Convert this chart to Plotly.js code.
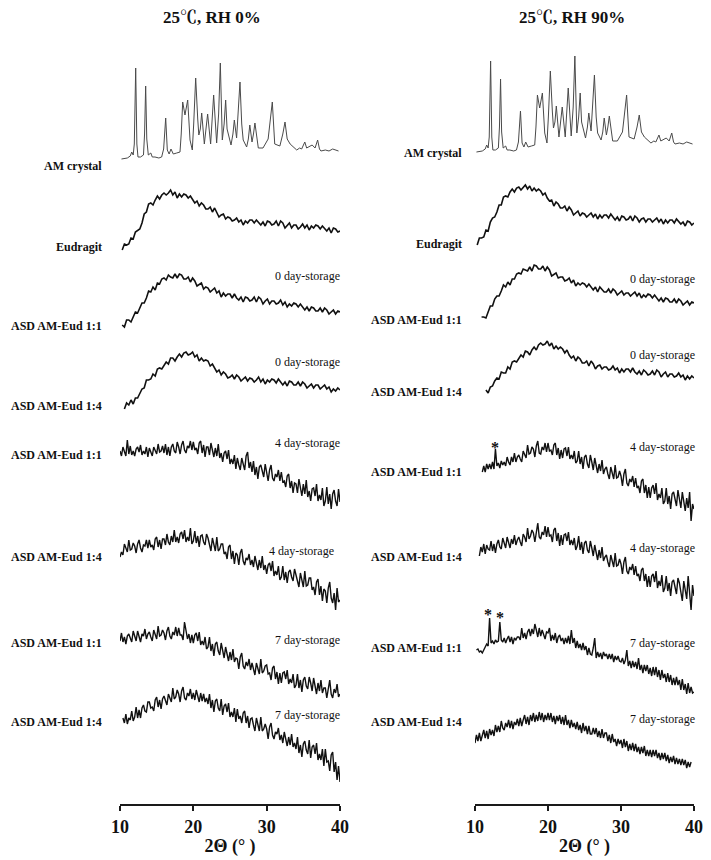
<!DOCTYPE html>
<html>
<head>
<meta charset="utf-8">
<script src="https://cdn.plot.ly/plotly-3.0.1.min.js"></script>
<style>html,body{margin:0;padding:0;background:#fff;}#chart{width:711px;height:860px;}</style>
</head>
<body>
<div id="chart"></div>
<script>
// ---------- DATA ----------
const panelTitles = ['25\u2103, RH 0%', '25\u2103, RH 90%'];
const axisTitle = '2\u0398 (\u00b0 )';
const tickValues = [10, 20, 30, 40];
const tickLabels = ['10', '20', '30', '40'];

const sampleNames = ['AM crystal', 'Eudragit', 'ASD AM-Eud 1:1', 'ASD AM-Eud 1:4',
                     'ASD AM-Eud 1:1', 'ASD AM-Eud 1:4', 'ASD AM-Eud 1:1', 'ASD AM-Eud 1:4'];
const storageNames = ['', '', '0 day-storage', '0 day-storage',
                      '4 day-storage', '4 day-storage', '7 day-storage', '7 day-storage'];

// vertical stacking offsets (a.u.) of each pattern, per panel
const offsetsRH0  = [640, 540, 470, 390, 300, 200, 100, 20];
const offsetsRH90 = [647, 545, 475, 395, 290, 200, 100, 20];

// AM crystal pattern
const amTheta = [10.2,11.0,11.4,11.6,11.8,11.95,12.14,12.3,12.45,12.8,
 13.2,13.35,13.5,13.65,13.86,14.2,14.4,14.77,15.3,15.68,
 15.95,16.23,16.45,16.7,16.95,17.27,17.73,18.18,18.35,18.55,
 18.86,19.23,19.55,19.86,20.05,20.32,20.6,20.75,20.95,21.14,
 21.5,21.75,21.95,22.36,22.6,22.77,23.18,23.45,23.68,23.95,
 24.2,24.41,24.6,24.77,25.14,25.4,25.59,25.9,26.1,26.36,
 26.6,26.8,27.27,27.5,27.7,28.0,28.2,28.4,28.86,29.5,
 30.2,30.5,30.77,31.1,31.8,32.2,32.5,32.8,33.2,34.1,
 34.5,34.77,35.0,35.2,35.45,35.7,36.2,36.6,36.95,37.2,
 37.4,38.0,38.5,39.0,39.5,39.8];
const amIntensity = [5,6,8,12,9,20,96,20,7,7,
 9,30,78,25,9,11,7,7,6,7,
 15,46,14,10,15,10,11,12,30,62,
 49,64,24,14,40,86,45,29,35,51,
 20,35,50,20,45,69,21,50,101,24,
 40,64,35,29,19,30,44,26,50,82,
 40,24,17,25,39,22,30,41,16,16,
 25,45,62,20,18,30,42,25,20,14,
 16,15,18,22,16,17,19,16,24,15,
 13,14,13,15,14,13];

// 2-theta grid of the low-noise scans (step 0.3)
const twoThetaCoarse = [10.0,10.3,10.6,10.9,11.2,11.5,11.8,12.1,12.4,12.7,
 13.0,13.3,13.6,13.9,14.2,14.5,14.8,15.1,15.4,15.7,
 16.0,16.3,16.6,16.9,17.2,17.5,17.8,18.1,18.4,18.7,
 19.0,19.3,19.6,19.9,20.2,20.5,20.8,21.1,21.4,21.7,
 22.0,22.3,22.6,22.9,23.2,23.5,23.8,24.1,24.4,24.7,
 25.0,25.3,25.6,25.9,26.2,26.5,26.8,27.1,27.4,27.7,
 28.0,28.3,28.6,28.9,29.2,29.5,29.8,30.1,30.4,30.7,
 31.0,31.3,31.6,31.9,32.2,32.5,32.8,33.1,33.4,33.7,
 34.0,34.3,34.6,34.9,35.2,35.5,35.8,36.1,36.4,36.7,
 37.0,37.3,37.6,37.9,38.2,38.5,38.8,39.1,39.4,39.7,
 40.0];
// 2-theta grid of the noisy stored-sample scans (step 0.2)
const twoThetaFine = [10.0,10.2,10.4,10.6,10.8,11.0,11.2,11.4,11.6,11.8,
 12.0,12.2,12.4,12.6,12.8,13.0,13.2,13.4,13.6,13.8,
 14.0,14.2,14.4,14.6,14.8,15.0,15.2,15.4,15.6,15.8,
 16.0,16.2,16.4,16.6,16.8,17.0,17.2,17.4,17.6,17.8,
 18.0,18.2,18.4,18.6,18.8,19.0,19.2,19.4,19.6,19.8,
 20.0,20.2,20.4,20.6,20.8,21.0,21.2,21.4,21.6,21.8,
 22.0,22.2,22.4,22.6,22.8,23.0,23.2,23.4,23.6,23.8,
 24.0,24.2,24.4,24.6,24.8,25.0,25.2,25.4,25.6,25.8,
 26.0,26.2,26.4,26.6,26.8,27.0,27.2,27.4,27.6,27.8,
 28.0,28.2,28.4,28.6,28.8,29.0,29.2,29.4,29.6,29.8,
 30.0,30.2,30.4,30.6,30.8,31.0,31.2,31.4,31.6,31.8,
 32.0,32.2,32.4,32.6,32.8,33.0,33.2,33.4,33.6,33.8,
 34.0,34.2,34.4,34.6,34.8,35.0,35.2,35.4,35.6,35.8,
 36.0,36.2,36.4,36.6,36.8,37.0,37.2,37.4,37.6,37.8,
 38.0,38.2,38.4,38.6,38.8,39.0,39.2,39.4,39.6,39.8,
 40.0];

// ---- 25 C, RH 0% ----
const eudragitRH0 = [null,14,20,19,20,26,25,32,34,35,
 41,50,52,60,61,59,64,68,65,69,
 71,69,71,74,69,72,66,70,67,70,
 69,66,68,64,61,63,58,61,59,55,
 55,57,52,56,52,47,49,50,45,47,
 46,43,44,46,42,44,39,43,41,44,
 44,41,44,41,39,42,38,43,42,39,
 40,43,38,43,41,36,39,41,36,39,
 39,35,37,40,36,39,34,38,36,39,
 38,35,38,35,33,36,31,36,35,32,
 33];
const asd11Day0RH0 = [null,9,7,14,14,12,17,22,21,27,
 31,31,36,43,42,47,44,51,50,55,
 56,54,59,57,56,60,56,60,59,55,
 55,57,52,56,53,48,50,51,45,47,
 46,42,44,46,41,43,37,41,38,40,
 40,36,40,36,34,37,32,37,36,33,
 34,37,32,37,35,30,33,35,30,33,
 33,30,31,34,29,32,27,30,28,31,
 30,27,30,27,24,27,23,27,26,23,
 23,26,22,26,24,20,22,24,20,23,
 22];
const asd14Day0RH0 = [null,null,5,11,9,14,10,16,16,21,
 25,26,34,34,35,40,38,45,46,45,
 48,52,50,56,56,53,57,60,57,61,
 62,59,60,62,57,59,53,56,53,54,
 53,48,50,46,42,44,39,42,40,36,
 37,39,35,39,37,33,35,37,33,36,
 35,32,34,37,32,35,30,34,32,35,
 34,31,35,32,29,32,28,33,32,29,
 29,32,28,32,30,26,28,30,26,29,
 29,25,27,29,25,27,22,25,23,26,
 24];
const asd11Day4RH0 = [53,48,57,51,48,64,50,58,49,53,
 48,55,57,52,59,49,53,50,57,47,
 56,52,48,57,54,50,60,52,53,58,
 51,60,49,57,48,57,60,53,51,62,
 57,50,59,63,54,51,58,56,63,54,
 62,54,56,50,61,63,51,59,47,57,
 57,49,61,52,47,56,48,60,46,51,
 42,51,53,45,54,40,45,40,49,35,
 46,39,34,46,41,34,48,52,36,42,
 32,43,29,37,25,37,39,31,27,40,
 32,23,34,39,26,23,30,27,34,23,
 32,22,23,17,28,30,16,23,11,21,
 20,11,25,15,8,20,10,24,7,13,
 3,15,16,8,20,3,9,4,16,-2,
 3,17,0,10,-5,10,14,3,-2,15,
 2];
const asd14Day4RH0 = [47,52,49,60,56,52,64,54,55,61,
 58,51,60,64,56,52,59,58,64,56,
 64,57,59,54,65,67,57,64,55,65,
 65,59,70,62,59,68,62,74,62,67,
 61,70,72,65,74,62,67,63,76,60,
 63,73,61,68,57,68,69,62,59,70,
 66,59,53,66,60,53,67,53,55,60,
 60,50,52,45,57,59,45,53,40,51,
 49,39,51,55,43,39,46,44,50,39,
 44,37,48,40,34,44,36,48,34,39,
 30,39,41,33,43,28,33,29,38,24,
 27,38,24,32,21,32,34,27,23,35,
 30,23,17,31,24,17,33,18,19,26,
 26,14,17,9,22,25,9,18,3,15,
 13,1,16,22,6,1,11,-6,16,2,
 4];
const asd11Day7RH0 = [63,71,62,67,60,68,70,65,62,73,
 69,63,73,67,62,70,68,75,65,70,
 72,67,63,74,70,65,78,68,69,74,
 71,64,73,77,68,65,72,69,77,68,
 76,69,69,64,82,75,65,70,61,69,
 61,69,71,63,72,59,63,59,67,55,
 57,67,53,60,48,60,62,53,49,61,
 54,46,57,49,43,52,44,55,42,46,
 45,35,47,51,38,35,42,38,45,34,
 41,35,29,41,36,30,45,31,33,38,
 39,30,31,24,36,38,25,32,20,31,
 21,31,32,25,34,20,25,21,30,16,
 19,30,16,24,12,24,27,18,15,27,
 21,13,26,17,10,21,13,24,11,16,
 16,6,18,24,10,6,15,11,20,7,
 10];
const asd14Day7RH0 = [null,null,66,61,70,60,66,64,73,63,
 67,77,66,74,66,76,79,73,72,82,
 82,76,77,73,84,87,77,84,75,85,
 88,83,79,90,86,82,96,85,87,94,
 90,82,93,97,86,84,91,88,95,85,
 91,84,94,88,82,91,83,90,82,86,
 80,90,76,84,72,83,85,76,73,85,
 69,78,80,72,81,67,72,67,76,62,
 75,65,68,61,71,73,61,68,56,65,
 66,59,53,66,60,53,67,53,55,60,
 55,45,57,61,49,45,52,50,56,44,
 49,41,52,44,38,47,39,50,37,41,
 35,47,31,39,27,40,43,34,30,44,
 26,37,39,30,41,24,30,24,35,18,
 35,22,23,13,29,32,12,22,4,18,
 2];

// ---- 25 C, RH 90% ----
const eudragitRH90 = [null,14,21,21,22,29,28,37,41,42,
 47,54,54,62,63,62,67,70,67,71,
 72,69,71,74,70,73,68,71,68,70,
 68,64,66,61,58,59,53,57,55,51,
 51,53,48,52,49,44,46,48,43,46,
 45,42,44,46,42,45,40,44,41,44,
 44,41,45,42,39,42,38,43,42,39,
 40,43,38,43,41,37,40,41,37,40,
 40,37,39,41,37,40,35,39,36,39,
 39,36,40,37,35,37,33,38,37,34,
 36];
const asd11Day0RH90 = [null,null,null,12,12,11,17,23,23,30,
 33,33,38,44,42,47,44,50,50,55,
 56,55,60,59,58,62,58,64,63,60,
 60,63,58,62,59,53,55,56,51,52,
 52,48,49,51,46,49,43,46,44,46,
 45,42,45,42,39,42,37,42,40,37,
 37,40,36,40,38,34,36,38,34,36,
 36,33,35,37,33,36,31,34,32,35,
 34,31,34,31,28,31,27,31,30,27,
 27,30,26,30,28,24,26,28,24,27,
 26];
const asd14Day0RH90 = [null,null,null,null,null,19,16,22,23,28,
 31,30,37,36,36,42,40,47,48,47,
 50,54,52,58,57,54,59,62,59,64,
 66,64,65,68,63,66,60,63,60,62,
 60,56,59,54,51,53,48,52,50,46,
 46,48,43,48,45,40,43,44,40,42,
 42,39,40,43,39,41,36,40,37,40,
 40,37,41,37,35,38,34,39,37,34,
 35,38,34,39,37,32,35,37,32,35,
 35,32,33,36,32,34,29,33,30,33,
 31];
const asd11Day4RH90 = [null,null,null,null,null,42,48,42,50,45,
 50,45,52,45,65,48,51,46,53,49,
 52,48,57,52,49,57,52,61,52,57,
 59,55,52,63,60,56,69,60,61,67,
 65,57,68,73,61,60,67,64,71,62,
 71,63,64,59,69,71,59,66,55,64,
 56,65,66,58,67,55,59,55,63,51,
 53,63,50,57,45,57,59,50,46,59,
 52,44,56,47,41,50,43,54,40,45,
 47,40,35,47,42,35,49,36,37,43,
 38,28,40,45,31,28,35,32,38,27,
 36,26,28,21,33,35,21,29,16,27,
 16,26,29,20,31,14,20,16,26,10,
 13,26,10,18,5,20,22,14,8,24,
 16,6,22,11,3,16,6,22,-7,10,
 5];
const asd14Day4RH90 = [null,null,null,48,57,52,60,50,59,55,
 54,63,53,60,51,60,64,57,55,66,
 62,56,67,60,56,65,60,69,59,64,
 67,62,58,70,67,62,76,65,68,74,
 71,62,74,81,67,65,72,69,78,67,
 77,68,69,62,74,76,63,71,58,69,
 59,69,70,63,72,59,64,59,66,54,
 58,68,54,62,50,61,63,54,51,63,
 56,48,59,50,44,54,46,57,43,47,
 49,42,37,49,44,37,51,38,39,45,
 40,30,42,47,33,30,37,34,40,29,
 38,28,30,23,34,36,23,30,17,28,
 17,28,30,22,33,16,23,18,29,12,
 16,28,13,21,8,22,24,15,10,26,
 21,12,3,23,15,5,28,7,-6,19,
 8];
const asd11Day7RH90 = [null,54,55,52,53,51,55,57,60,58,
 86,61,63,60,64,62,63,82,64,62,
 66,61,65,68,62,67,60,66,64,67,
 67,64,76,66,71,65,72,75,68,75,
 70,80,74,67,76,68,74,69,65,72,
 71,76,63,69,64,71,61,67,69,63,
 66,60,66,61,68,60,74,61,66,56,
 63,56,60,54,61,54,58,49,56,50,
 49,56,66,46,52,47,51,45,52,48,
 50,45,50,45,50,42,48,44,48,43,
 42,46,40,44,54,38,43,36,43,37,
 42,35,46,34,39,31,39,33,39,30,
 36,28,37,29,37,27,34,24,34,26,
 30,22,31,22,29,19,26,19,27,19,
 24,14,25,14,20,10,21,11,17,11,
 12];
const asd14Day7RH90 = [41,49,43,51,43,48,54,46,53,45,
 55,49,54,48,59,52,58,52,63,56,
 54,61,57,64,56,63,55,62,59,65,
 58,66,58,64,69,60,67,59,69,63,
 71,62,69,63,72,64,71,62,69,64,
 71,64,71,62,68,60,68,63,69,60,
 67,59,69,59,64,56,64,57,61,55,
 62,54,59,51,61,53,58,50,58,50,
 50,56,50,56,47,53,46,55,46,51,
 51,43,49,41,50,42,45,38,45,40,
 44,36,45,37,43,33,40,34,41,33,
 40,32,37,30,37,31,38,28,34,28,
 34,27,34,28,34,26,31,24,31,25,
 31,23,29,21,27,22,28,20,26,20,
 25,19,25,19,24,16,22,17,22,null,
 null];

// ---------- BUILD ----------
const W = 711, H = 860;
const plotTop = 30, plotBottom = 804;
const yMax = plotBottom - plotTop;
const serif = "'Liberation Serif', 'Times New Roman', 'Noto Serif CJK SC', 'Noto Sans CJK SC', serif";

const seriesRH0 = [amIntensity, eudragitRH0, asd11Day0RH0, asd14Day0RH0, asd11Day4RH0, asd14Day4RH0, asd11Day7RH0, asd14Day7RH0];
const seriesRH90 = [amIntensity, eudragitRH90, asd11Day0RH90, asd14Day0RH90, asd11Day4RH90, asd14Day4RH90, asd11Day7RH90, asd14Day7RH90];

function makeTrace(i, ys, off, xa) {
  const xs = i === 0 ? amTheta : (i < 4 ? twoThetaCoarse : twoThetaFine);
  let color = '#111', width = 1.6;
  if (i === 0) { color = '#4a4a4a'; width = 1; }
  if (i >= 4) width = 1.4;
  return {
    x: xs, y: ys.map(v => v === null ? null : v + off),
    xaxis: xa, yaxis: 'y', mode: 'lines', type: 'scatter',
    line: {color: color, width: width},
    hoverinfo: 'skip', connectgaps: false, showlegend: false
  };
}
const traces = [];
seriesRH0.forEach((s, i) => traces.push(makeTrace(i, s, offsetsRH0[i], 'x')));
seriesRH90.forEach((s, i) => traces.push(makeTrace(i, s, offsetsRH90[i], 'x2')));

// label layout (pixel positions)
const namePosL = [165.7, 247, 325.7, 405.7, 455, 556.7, 642.7, 721.7];
const namePosR = [152.7, 244, 320, 391.7, 471.7, 556.7, 648.3, 721.7];
const storPosL = [null, null, 276, 362.3, 443.3, 551, 640, 715];
const storRightL = [0, 0, 341, 341, 341, 335, 341, 341];
const storPosR = [null, null, 279.3, 355, 447.3, 548.3, 643.3, 719];
const py2paper = py => (plotBottom - py) / yMax;

const ann = [];
function addText(text, px, py, anchor, size, weight) {
  ann.push({text: text, xref: 'paper', yref: 'paper', x: px / W, y: py2paper(py),
    xanchor: anchor, yanchor: 'middle', showarrow: false,
    font: {family: serif, size: size, color: '#111', weight: weight}});
}
sampleNames.forEach((n, i) => {
  addText(n, 104, namePosL[i], 'right', 12, 'bold');
  addText(n, 464, namePosR[i], 'right', 12, 'bold');
  if (storageNames[i]) {
    addText(storageNames[i], storRightL[i] + 1, storPosL[i], 'right', 12, 'normal');
    addText(storageNames[i], 697, storPosR[i], 'right', 12, 'normal');
  }
});
addText(panelTitles[0], 212, 17, 'center', 17, 'bold');
addText(panelTitles[1], 572, 17, 'center', 17, 'bold');
// asterisks marking crystalline reflections
[[495, 447], [488, 614], [500, 617]].forEach(p => addText('*', p[0], p[1], 'center', 16, 'bold'));

function xAxis(domain) {
  return {
    domain: domain, range: [10, 40], anchor: 'y',
    tickmode: 'array', tickvals: tickValues, ticktext: tickLabels,
    showline: true, linewidth: 2, linecolor: '#1a1a1a',
    ticks: 'outside', ticklen: 5, tickwidth: 2, tickcolor: '#1a1a1a',
    tickfont: {family: serif, size: 18, color: '#111', weight: 'bold'},
    title: {text: axisTitle, font: {family: serif, size: 18, color: '#111', weight: 'bold'}, standoff: 4},
    showgrid: false, zeroline: false, fixedrange: true
  };
}

const layout = {
  width: W, height: H,
  margin: {l: 0, r: 0, t: plotTop, b: H - plotBottom, pad: 0},
  paper_bgcolor: '#fff', plot_bgcolor: '#fff',
  showlegend: false,
  xaxis: xAxis([120 / W, 340 / W]),
  xaxis2: xAxis([475 / W, 694 / W]),
  yaxis: {range: [0, yMax], visible: false, fixedrange: true},
  annotations: ann
};

Plotly.newPlot('chart', traces, layout, {staticPlot: true, displayModeBar: false});
</script>
</body>
</html>
